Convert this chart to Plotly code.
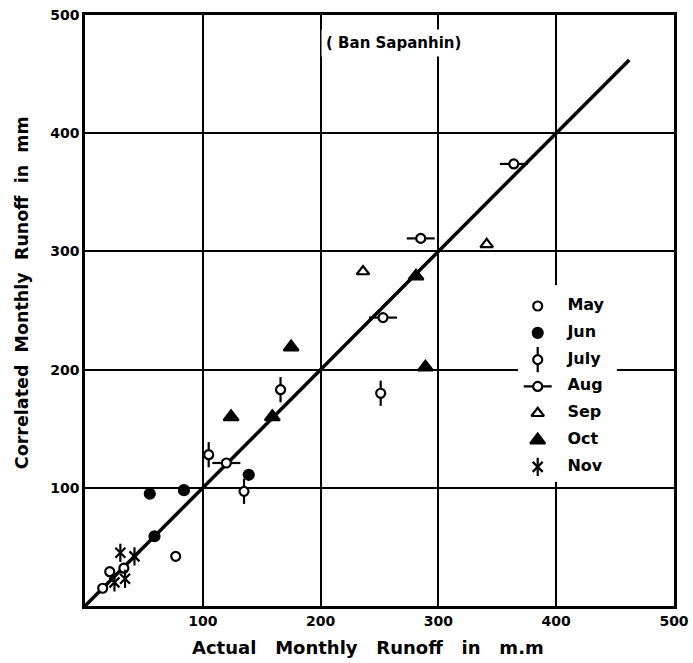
import plotly.graph_objects as go

# Monthly runoff pairs: actual (x) vs correlated (y), in mm
may_x = [15, 21, 33, 77]
may_y = [15, 29, 32, 42]
jun_x = [55, 84, 59, 139]
jun_y = [95, 98, 59, 111]
jul_x = [105, 135, 166, 251]
jul_y = [128, 97, 183, 180]
aug_x = [120, 253, 285, 364]
aug_y = [121, 244, 311, 374]
sep_x = [236, 341]
sep_y = [283, 306]
oct_x = [124, 159, 175, 281, 289]
oct_y = [160, 160, 219, 279, 202]
nov_x = [30, 42, 25, 34]
nov_y = [45, 42, 20, 23]

months = ["May", "Jun", "July", "Aug", "Sep", "Oct", "Nov"]
series_x = [may_x, jun_x, jul_x, aug_x, sep_x, oct_x, nov_x]
series_y = [may_y, jun_y, jul_y, aug_y, sep_y, oct_y, nov_y]

# 1:1 reference line extent
line_x = [0, 462]
line_y = [0, 462]

tick_vals = [100, 200, 300, 400, 500]

INK = "black"
FONT = "DejaVu Sans"

# marker layers per month: (symbol, size, fill)
styles = {
    "May": [("circle", 9, "white")],
    "Jun": [("circle", 10, INK)],
    "July": [("line-ns-open", 18, None), ("circle", 9, "white")],
    "Aug": [("line-ew-open", 20, None), ("circle", 9, "white")],
    "Sep": [("triangle-up", 11, "white")],
    "Oct": [("triangle-up", 13, INK)],
    "Nov": [("x-thin-open", 10, None), ("line-ns-open", 13, None)],
}


def marker_traces(xs, ys, month, xaxis="x", yaxis="y"):
    out = []
    for sym, size, fill in styles[month]:
        out.append(go.Scatter(
            x=xs, y=ys, mode="markers", xaxis=xaxis, yaxis=yaxis,
            showlegend=False, hoverinfo="skip",
            marker=dict(symbol=sym, size=size,
                        color=fill if fill else INK,
                        line=dict(color=INK, width=2.2)),
        ))
    return out


fig = go.Figure()

fig.add_trace(go.Scatter(x=line_x, y=line_y, mode="lines", showlegend=False,
                         line=dict(color=INK, width=3.5), hoverinfo="skip"))

for m, xs, ys in zip(months, series_x, series_y):
    for t in marker_traces(xs, ys, m):
        fig.add_trace(t)

# key: symbols and names on an overlay axis placed over the white box
key_rows = list(range(len(months)))
for i, m in enumerate(months):
    for t in marker_traces([0.2], [key_rows[i]], m, "x2", "y2"):
        fig.add_trace(t)
fig.add_trace(go.Scatter(
    x=[0.5] * len(months), y=key_rows, mode="text",
    text=[f"<b>{m}</b>" for m in months],
    textposition="middle right", xaxis="x2", yaxis="y2",
    textfont=dict(family=FONT, size=16, color=INK),
    showlegend=False, hoverinfo="skip"))

axis_common = dict(
    range=[0, 500], tickvals=tick_vals, ticktext=[f"<b>{v}</b>" for v in tick_vals],
    showgrid=True, gridcolor=INK, gridwidth=2, zeroline=False,
    showline=True, linecolor=INK, linewidth=2.5, mirror=True,
    ticks="", tickfont=dict(family=FONT, size=14, color=INK),
    fixedrange=True, automargin=False,
)

sp = "\u00a0"
x_title = (sp * 3).join(["Actual", "Monthly", "Runoff", "in", "m.m"])
y_title = (sp * 2).join(["Correlated", "Monthly", "Runoff", "in", "mm"])

fig.update_layout(
    width=693, height=663,
    margin=dict(l=85, r=19, t=15, b=57),
    paper_bgcolor="white", plot_bgcolor="white",
    font=dict(family=FONT, color=INK),
    xaxis=dict(axis_common, domain=[0, 1]),
    yaxis=dict(axis_common, domain=[0, 1]),
    xaxis2=dict(domain=[0.735, 0.903], range=[0, 1], visible=False,
                anchor="y2", fixedrange=True),
    yaxis2=dict(domain=[0.21, 0.543], range=[6.56, -0.78], visible=False,
                anchor="x2", fixedrange=True),
    shapes=[dict(type="rect", xref="paper", yref="paper",
                 x0=0.735, x1=0.903, y0=0.21, y1=0.543,
                 fillcolor="white", line=dict(width=0), layer="between")],
    annotations=[
        dict(text="<b>( Ban Sapanhin)</b>", x=262, y=476, xref="x", yref="y",
             showarrow=False, bgcolor="white", borderpad=4,
             font=dict(family=FONT, size=15, color=INK)),
        dict(text=f"<b>{x_title}</b>", x=0.48, y=-0.071, xref="paper", yref="paper",
             xanchor="center", yanchor="middle", showarrow=False,
             font=dict(family=FONT, size=18, color=INK)),
        dict(text=f"<b>{y_title}</b>", x=-0.107, y=0.531, xref="paper", yref="paper",
             xanchor="center", yanchor="middle", textangle=-90, showarrow=False,
             font=dict(family=FONT, size=17.5, color=INK)),
    ],
)

fig.write_html("out.html")
